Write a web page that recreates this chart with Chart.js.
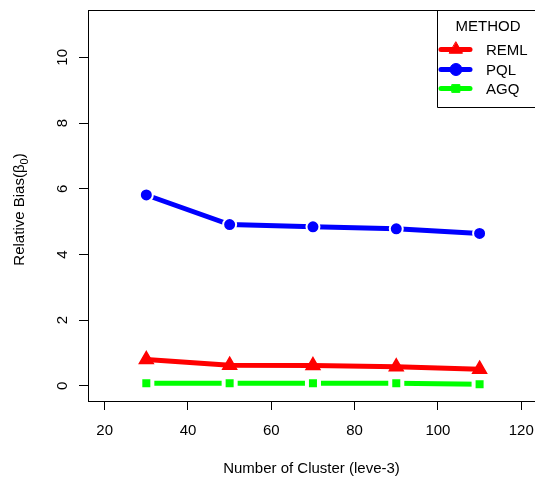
<!DOCTYPE html>
<html>
<head>
<meta charset="utf-8">
<script src="https://cdn.jsdelivr.net/npm/chart.js@4/dist/chart.umd.min.js"></script>
<style>
  html, body { margin: 0; padding: 0; background: #fff; }
</style>
</head>
<body>
<canvas id="c" width="535" height="479"></canvas>
<script>
const clusters = [30, 50, 70, 90, 110];
const reml = [0.80, 0.63, 0.62, 0.58, 0.51];
const pql = [5.81, 4.91, 4.84, 4.78, 4.64];
const agq = [0.08, 0.08, 0.08, 0.08, 0.05];
const xTicks = [20, 40, 60, 80, 100, 120];
const yTicks = [0, 2, 4, 6, 8, 10];

const FONT = '"Liberation Sans", Arial, Helvetica, sans-serif';
Chart.defaults.font.family = FONT;
Chart.defaults.font.size = 15;
Chart.defaults.color = '#000';

const pts = vals => clusters.map((x, i) => ({ x: x, y: vals[i] }));

// legend symbols (no white ring, unlike the plotted markers)
const legendMarks = [
  { style: 'triangle', radius: 7.5, color: '#ff0000' },
  { style: 'circle', radius: 6, color: '#0000ff' },
  { style: 'rect', radius: 5.5, color: '#00ff00' }
];

// fixed axis sizes so the plot box lands where it should
const fixX = s => { s.height = 78; s.paddingLeft = 0; s.paddingRight = 0; };
const fixY = s => { s.width = 88; s.paddingTop = 0; s.paddingBottom = 0; };

const frame = {
  id: 'frame',
  afterDraw(chart) {
    const ctx = chart.ctx;
    const a = chart.chartArea;
    const y = chart.scales.y;
    ctx.save();

    // top edge of the box
    ctx.strokeStyle = '#000';
    ctx.lineWidth = 1;
    ctx.beginPath();
    ctx.moveTo(a.left, Math.round(a.top) + 0.5);
    ctx.lineTo(a.right, Math.round(a.top) + 0.5);
    ctx.stroke();

    // y tick labels, written upwards
    ctx.fillStyle = '#000';
    ctx.font = '15px ' + FONT;
    ctx.textAlign = 'center';
    ctx.textBaseline = 'alphabetic';
    y.ticks.forEach(t => {
      ctx.save();
      ctx.translate(66.5, y.getPixelForValue(t.value));
      ctx.rotate(-Math.PI / 2);
      ctx.fillText(String(t.value), 0, 0);
      ctx.restore();
    });

    // y axis title with subscript
    const main = 'Relative Bias(\u03B2', sub = '0', close = ')';
    ctx.font = '15px ' + FONT;
    const w1 = ctx.measureText(main).width;
    const w3 = ctx.measureText(close).width;
    ctx.font = '11px ' + FONT;
    const w2 = ctx.measureText(sub).width;
    const total = w1 + w2 + w3;
    ctx.save();
    ctx.translate(23.5, (a.top + a.bottom) / 2 + 4);
    ctx.rotate(-Math.PI / 2);
    ctx.textAlign = 'left';
    const x0 = -total / 2;
    ctx.font = '15px ' + FONT;
    ctx.fillText(main, x0, 0);
    ctx.font = '11px ' + FONT;
    ctx.fillText(sub, x0 + w1, 4);
    ctx.font = '15px ' + FONT;
    ctx.fillText(close, x0 + w1 + w2, 0);
    ctx.restore();

    // legend box in the top right corner, open past the canvas edge
    const lx = 437.5, ly = Math.round(a.top) + 0.5, lb = 107.5;
    ctx.strokeStyle = '#000';
    ctx.lineWidth = 1;
    ctx.beginPath();
    ctx.moveTo(chart.width + 5, ly);
    ctx.lineTo(lx, ly);
    ctx.lineTo(lx, lb);
    ctx.lineTo(chart.width + 5, lb);
    ctx.stroke();
    ctx.textAlign = 'center';
    ctx.textBaseline = 'middle';
    ctx.font = '15px ' + FONT;
    ctx.fillText('METHOD', 488, 27);

    const rows = [49.5, 69.5, 88.5];
    chart.data.datasets.forEach((ds, i) => {
      const yy = rows[i];
      const m = legendMarks[i];
      ctx.strokeStyle = m.color;
      ctx.lineWidth = 5;
      ctx.lineCap = 'round';
      ctx.beginPath();
      ctx.moveTo(441, yy);
      ctx.lineTo(470, yy);
      ctx.stroke();
      ctx.fillStyle = m.color;
      ctx.strokeStyle = m.color;
      ctx.lineWidth = 1;
      Chart.helpers.drawPoint(ctx, { pointStyle: m.style, radius: m.radius, rotation: 0, borderWidth: 1 }, 456, yy);
      ctx.fillStyle = '#000';
      ctx.textAlign = 'left';
      ctx.fillText(ds.label, 486, yy + 1);
    });

    ctx.restore();
  }
};

new Chart(document.getElementById('c'), {
  type: 'line',
  data: {
    datasets: [
      {
        label: 'REML',
        data: pts(reml),
        borderColor: '#ff0000',
        borderWidth: 5,
        pointStyle: 'triangle',
        pointRadius: 8,
        pointBorderWidth: 1.5,
        pointBorderColor: '#ff0000',
        pointBackgroundColor: '#ff0000'
      },
      {
        label: 'PQL',
        data: pts(pql),
        borderColor: '#0000ff',
        borderWidth: 5,
        pointStyle: 'circle',
        pointRadius: 6.5,
        pointBorderWidth: 2,
        pointBorderColor: '#ffffff',
        pointBackgroundColor: '#0000ff'
      },
      {
        label: 'AGQ',
        data: pts(agq),
        borderColor: '#00ff00',
        borderWidth: 5,
        pointStyle: 'rect',
        pointRadius: 8.5,
        pointBorderWidth: 4,
        pointBorderColor: '#ffffff',
        pointBackgroundColor: '#00ff00'
      }
    ]
  },
  options: {
    responsive: false,
    animation: false,
    events: [],
    layout: { autoPadding: false, padding: { top: 10, right: 0, left: 0, bottom: 0 } },
    scales: {
      x: {
        type: 'linear',
        min: 16,
        max: 123.3,
        afterBuildTicks: s => { s.ticks = xTicks.map(v => ({ value: v })); },
        afterFit: fixX,
        grid: { drawOnChartArea: false, tickLength: 9, tickColor: '#000', tickWidth: 1 },
        border: { color: '#000', width: 1 },
        ticks: { color: '#000', padding: 12, maxRotation: 0, autoSkip: false },
        title: {
          display: true,
          text: 'Number of Cluster (leve-3)',
          color: '#000',
          padding: { top: 0, bottom: 1 }
        }
      },
      y: {
        type: 'linear',
        min: -0.46,
        max: 11.44,
        afterBuildTicks: s => { s.ticks = yTicks.map(v => ({ value: v })); },
        afterFit: fixY,
        grid: { drawOnChartArea: false, tickLength: 9, tickColor: '#000', tickWidth: 1 },
        border: { color: '#000', width: 1 },
        ticks: { color: 'rgba(0,0,0,0)' }
      }
    },
    plugins: {
      legend: { display: false },
      tooltip: { enabled: false }
    }
  },
  plugins: [frame]
});
</script>
</body>
</html>
